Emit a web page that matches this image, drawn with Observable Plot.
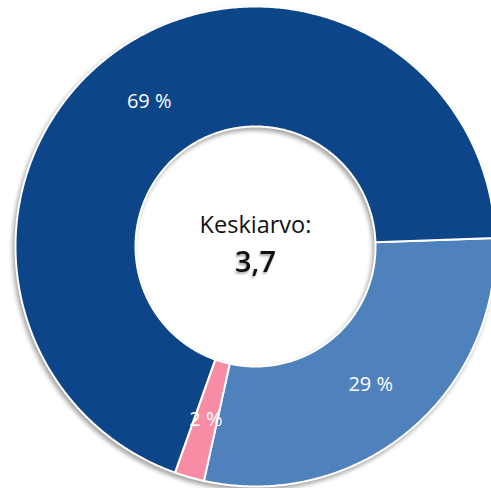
<!DOCTYPE html>
<html>
<head>
<meta charset="utf-8">
<script src="https://cdn.jsdelivr.net/npm/d3@7"></script>
<script src="https://cdn.jsdelivr.net/npm/@observablehq/plot@0.6"></script>
<style>
  html, body { margin: 0; padding: 0; background: #fff; }
  #chart svg { display: block; }
</style>
</head>
<body>
<div id="chart"></div>
<script>
// ---- data ----
const categories = ["Osuus A", "Osuus B", "Osuus C"];
const shares = [29, 2, 69];            // percent
const sliceColors = ["#4F81BD", "#F98CA5", "#0D4688"];
const centerTitle = "Keskiarvo:";
const meanValue = 3.7;

// ---- layout ----
const W = 491, H = 488;
const cx = 255, cy = 246, R = 240;     // pixel centre / outer radius
const innerRatio = 0.5;
const startDeg = 88;

const pie = d3.pie().sort(null)
  .startAngle(startDeg * Math.PI / 180)
  .endAngle(startDeg * Math.PI / 180 + 2 * Math.PI);
const arcs = pie(shares);

const pts = [];
arcs.forEach((a, i) => {
  const n = Math.max(4, Math.ceil((a.endAngle - a.startAngle) / (Math.PI / 360)));
  for (let k = 0; k <= n; k++) {
    const t = a.startAngle + (a.endAngle - a.startAngle) * k / n;
    pts.push({cat: categories[i], x: Math.sin(t), y: Math.cos(t)});
  }
  for (let k = n; k >= 0; k--) {
    const t = a.startAngle + (a.endAngle - a.startAngle) * k / n;
    pts.push({cat: categories[i], x: innerRatio * Math.sin(t), y: innerRatio * Math.cos(t)});
  }
});

const labels = arcs.map((a, i) => {
  const m = (a.startAngle + a.endAngle) / 2, r = 0.75;
  return {text: shares[i] + " %", x: r * Math.sin(m), y: r * Math.cos(m)};
});

const fmt = v => String(v).replace(".", ",");

const plot = Plot.plot({
  width: W, height: H, margin: 0,
  x: {domain: [-cx / R, (W - cx) / R], axis: null},
  y: {domain: [-(H - cy) / R, cy / R], axis: null},
  color: {domain: categories, range: sliceColors},
  style: {fontFamily: "'Open Sans', sans-serif", overflow: "hidden", background: "#fff"},
  marks: [
    Plot.line(pts, {x: "x", y: "y", z: "cat", fill: "cat", stroke: "white",
      strokeWidth: 2, curve: "linear-closed", clip: "frame"}),
    Plot.text(labels, {x: "x", y: "y", text: "text", fill: "white",
      fontSize: 20, fontFamily: "'Open Sans', sans-serif"}),
    Plot.text([centerTitle], {x: () => 0, y: () => 0, text: d => d, dy: -21,
      fontSize: 23.5, fill: "#111", fontFamily: "'Open Sans', sans-serif"}),
    Plot.text([meanValue], {x: () => 0, y: () => 0, text: d => fmt(d), dy: 16,
      fontSize: 29, fontWeight: 600, fill: "#111", fontFamily: "'Open Sans', sans-serif"})
  ]
});

d3.select(plot).selectAll("g[aria-label=line]")
  .style("filter", "drop-shadow(-2px 3px 2px rgba(0,0,0,0.35))");
d3.select(plot).selectAll("g[aria-label=text]").filter((d, i, n) => i === 2)
  .style("filter", "drop-shadow(-1px 2px 1px rgba(0,0,0,0.35))");

document.getElementById("chart").appendChild(plot);
</script>
</body>
</html>
